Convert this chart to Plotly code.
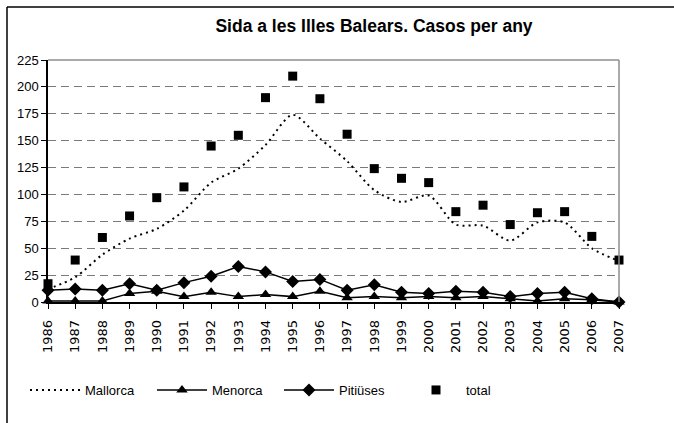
import plotly.graph_objects as go

years = list(range(1986, 2008))
year_labels = [str(y) for y in years]
mallorca = [12, 23, 44, 59, 68, 85, 111, 124, 146, 174, 152, 131, 104, 93, 99, 72, 71, 57, 74, 74, 50, 38]
menorca = [1, 1, 1, 8, 10, 5, 9, 5, 7, 5, 10, 4, 5, 4, 5, 4, 5, 3, 1, 3, 2, 0]
pitiuses = [11, 12, 11, 17, 11, 18, 24, 33, 28, 19, 21, 11, 16, 9, 8, 10, 9, 5, 8, 9, 3, 0]
total = [17, 39, 60, 80, 97, 107, 145, 155, 190, 210, 189, 156, 124, 115, 111, 84, 90, 72, 83, 84, 61, 39]

W, H = 674, 423
PL, PR, PT, PB = 48, 619, 60, 302  # plot area pixels


def px_x(p):
    return (p - PL) / (PR - PL)


def px_y(p):
    return (PB - p) / (PB - PT)


fig = go.Figure()
fig.add_trace(go.Scatter(x=years, y=mallorca, name="Mallorca", mode="lines",
                         line=dict(color="black", width=2, dash="2px,4px", shape="spline", smoothing=0.8),
                         cliponaxis=False))
fig.add_trace(go.Scatter(x=years, y=menorca, name="Menorca", mode="lines+markers",
                         line=dict(color="black", width=1.5),
                         marker=dict(symbol="triangle-up", size=10, color="black"),
                         cliponaxis=False))
fig.add_trace(go.Scatter(x=years, y=pitiuses, name="Pitiüses", mode="lines+markers",
                         line=dict(color="black", width=1.5),
                         marker=dict(symbol="diamond", size=10, color="black"),
                         cliponaxis=False))
fig.add_trace(go.Scatter(x=years, y=total, name="total", mode="markers",
                         marker=dict(symbol="square", size=9, color="black"),
                         cliponaxis=False))

shapes = [
    # plot area top and right borders (gray)
    dict(type="line", xref="paper", yref="paper", x0=0, x1=1, y0=1, y1=1,
         line=dict(color="#8c8c8c", width=1.5), layer="above"),
    dict(type="line", xref="paper", yref="paper", x0=1, x1=1, y0=0, y1=1,
         line=dict(color="#8c8c8c", width=1.5), layer="above"),
    # outer chart frame (top and left)
    dict(type="line", xref="paper", yref="paper", x0=px_x(7), x1=px_x(674), y0=px_y(7), y1=px_y(7),
         line=dict(color="black", width=1.5)),
    dict(type="line", xref="paper", yref="paper", x0=px_x(7), x1=px_x(7), y0=px_y(7), y1=px_y(423),
         line=dict(color="black", width=1.5)),
]

fig.update_layout(
    width=W, height=H,
    margin=dict(l=PL, r=W - PR, t=PT, b=H - PB),
    paper_bgcolor="white", plot_bgcolor="white",
    font=dict(family="Liberation Sans, Arial, sans-serif", size=13, color="black"),
    title=dict(text="<b>Sida a les Illes Balears. Casos per any</b>",
               x=374 / W, xanchor="center", y=1 - 26 / H, yanchor="middle",
               font=dict(size=17.5, family="Liberation Sans, Arial, sans-serif", color="black")),
    showlegend=True,
    legend=dict(orientation="h", x=px_x(25), xanchor="left", y=px_y(390), yanchor="middle",
                font=dict(size=13), itemwidth=50, entrywidth=62, traceorder="normal",
                bgcolor="rgba(0,0,0,0)"),
    shapes=shapes,
    xaxis=dict(range=[1986, 2007], tickmode="array", tickvals=years, ticktext=year_labels,
               tickangle=-90, showgrid=False, zeroline=False, showline=True,
               linecolor="black", linewidth=1.5, ticks="outside", ticklen=5, tickcolor="black",
               ticklabelstandoff=6,
               tickfont=dict(family="DejaVu Sans, sans-serif", size=13)),
    yaxis=dict(range=[0, 225], tickmode="array", tickvals=list(range(0, 226, 25)),
               showgrid=True, gridcolor="#7a7a7a", griddash="8px,5px", gridwidth=1,
               zeroline=False, showline=True, linecolor="black", linewidth=1.5,
               ticks="outside", ticklen=5, tickcolor="black",
               tickfont=dict(size=13)),
)

fig.write_html("out.html", config={"displayModeBar": False},
               post_script="document.body.style.margin='0';document.body.style.padding='0';")
